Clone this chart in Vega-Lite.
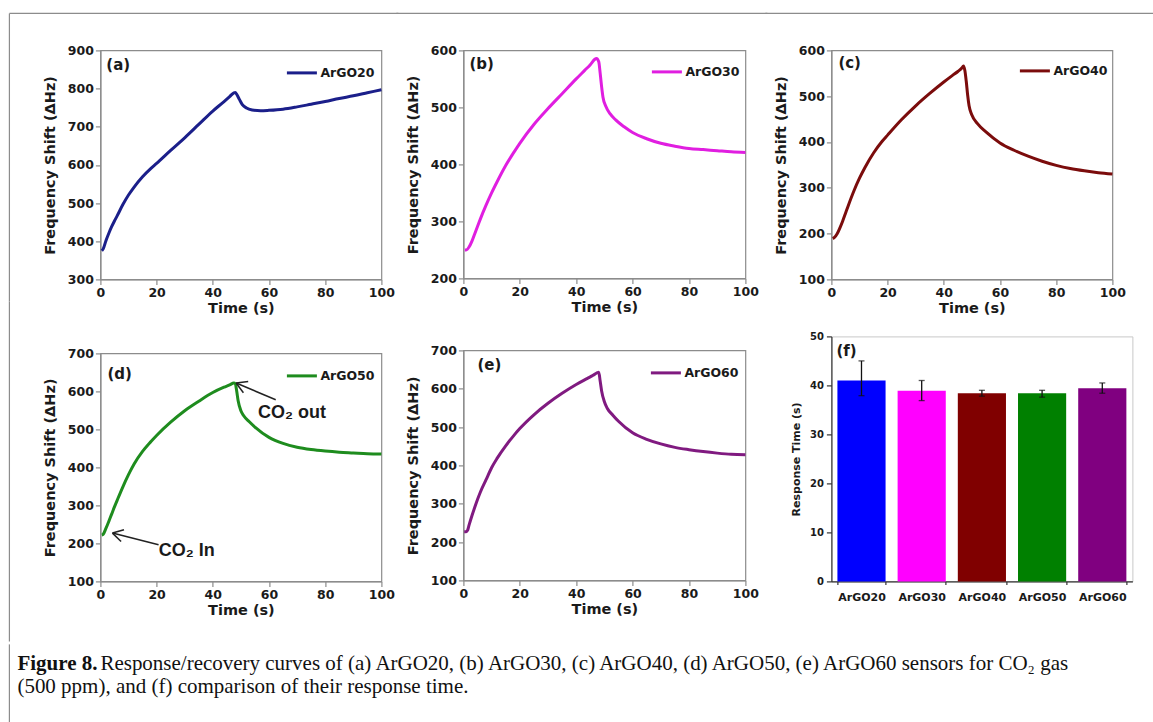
{
  "$schema": "https://vega.github.io/schema/vega-lite/v6.json",
  "padding": {"left": 7.4, "top": 11.4, "right": 0, "bottom": 0},
  "background": "white",
  "config": {
    "font": "DejaVu Sans",
    "view": {"stroke": "#8c8c8c", "strokeWidth": 1.2},
    "axis": {"grid": false, "domainColor": "#8c8c8c", "domainWidth": 1.2, "tickColor": "#8c8c8c", "tickSize": 5, "tickWidth": 1.2,
      "labelFont": "DejaVu Sans", "labelFontWeight": "bold", "labelFontSize": 12.5, "labelColor": "#1a1a1a", "labelPadding": 2, "labelOverlap": false,
      "titleFont": "DejaVu Sans", "titleFontWeight": "bold", "titleFontSize": 14.5, "titleColor": "#1a1a1a"},
    "axisX": {"titlePadding": 3, "labelFlush": false},
    "axisY": {"titlePadding": 10},
    "legend": {"orient": "top-right", "offset": 6, "padding": 0, "symbolType": "stroke", "symbolStrokeWidth": 3, "symbolSize": 900,
      "labelFont": "DejaVu Sans", "labelFontWeight": "bold", "labelFontSize": 12.5, "labelColor": "#1a1a1a", "labelOffset": 2},
    "text": {"color": "#1a1a1a"}
  },
  "datasets": {
    "curves": [
      {"sample":"ArGO20","t":0.5,"v":375},{"sample":"ArGO20","t":1,"v":380},{"sample":"ArGO20","t":2,"v":402},{"sample":"ArGO20","t":3,"v":421},{"sample":"ArGO20","t":4,"v":438},{"sample":"ArGO20","t":5,"v":453},{"sample":"ArGO20","t":6,"v":467},{"sample":"ArGO20","t":8,"v":496},{"sample":"ArGO20","t":10,"v":521},{"sample":"ArGO20","t":12,"v":542},{"sample":"ArGO20","t":15,"v":569},{"sample":"ArGO20","t":18,"v":591},{"sample":"ArGO20","t":20,"v":604},{"sample":"ArGO20","t":25,"v":638},{"sample":"ArGO20","t":30,"v":671},{"sample":"ArGO20","t":35,"v":706},{"sample":"ArGO20","t":40,"v":741},{"sample":"ArGO20","t":44,"v":766},{"sample":"ArGO20","t":46,"v":779},{"sample":"ArGO20","t":47.5,"v":789},{"sample":"ArGO20","t":48,"v":790},{"sample":"ArGO20","t":48.5,"v":785},{"sample":"ArGO20","t":49.5,"v":771},{"sample":"ArGO20","t":50.5,"v":758},{"sample":"ArGO20","t":52,"v":749},{"sample":"ArGO20","t":54,"v":744},{"sample":"ArGO20","t":57,"v":742},{"sample":"ArGO20","t":60,"v":743},{"sample":"ArGO20","t":65,"v":746},{"sample":"ArGO20","t":70,"v":752},{"sample":"ArGO20","t":75,"v":759},{"sample":"ArGO20","t":80,"v":766},{"sample":"ArGO20","t":85,"v":774},{"sample":"ArGO20","t":90,"v":781},{"sample":"ArGO20","t":95,"v":789},{"sample":"ArGO20","t":100,"v":797},
      {"sample":"ArGO30","t":0.5,"v":250},{"sample":"ArGO30","t":1,"v":250},{"sample":"ArGO30","t":2,"v":255},{"sample":"ArGO30","t":3,"v":265},{"sample":"ArGO30","t":4,"v":278},{"sample":"ArGO30","t":5,"v":291},{"sample":"ArGO30","t":6,"v":304},{"sample":"ArGO30","t":8,"v":328},{"sample":"ArGO30","t":10,"v":350},{"sample":"ArGO30","t":12,"v":370},{"sample":"ArGO30","t":15,"v":398},{"sample":"ArGO30","t":18,"v":422},{"sample":"ArGO30","t":20,"v":437},{"sample":"ArGO30","t":25,"v":470},{"sample":"ArGO30","t":30,"v":498},{"sample":"ArGO30","t":35,"v":524},{"sample":"ArGO30","t":40,"v":550},{"sample":"ArGO30","t":43,"v":565},{"sample":"ArGO30","t":45,"v":575},{"sample":"ArGO30","t":46.5,"v":584},{"sample":"ArGO30","t":47.2,"v":586},{"sample":"ArGO30","t":48,"v":580},{"sample":"ArGO30","t":48.5,"v":560},{"sample":"ArGO30","t":49,"v":537},{"sample":"ArGO30","t":49.5,"v":518},{"sample":"ArGO30","t":50.5,"v":502},{"sample":"ArGO30","t":52,"v":489},{"sample":"ArGO30","t":54,"v":478},{"sample":"ArGO30","t":57,"v":466},{"sample":"ArGO30","t":60,"v":456},{"sample":"ArGO30","t":65,"v":445},{"sample":"ArGO30","t":70,"v":437},{"sample":"ArGO30","t":75,"v":432},{"sample":"ArGO30","t":80,"v":428},{"sample":"ArGO30","t":85,"v":426},{"sample":"ArGO30","t":90,"v":424},{"sample":"ArGO30","t":95,"v":422},{"sample":"ArGO30","t":100,"v":421},
      {"sample":"ArGO40","t":0.5,"v":189},{"sample":"ArGO40","t":1,"v":191},{"sample":"ArGO40","t":2,"v":199},{"sample":"ArGO40","t":3,"v":212},{"sample":"ArGO40","t":4,"v":227},{"sample":"ArGO40","t":5,"v":244},{"sample":"ArGO40","t":6,"v":261},{"sample":"ArGO40","t":8,"v":293},{"sample":"ArGO40","t":10,"v":321},{"sample":"ArGO40","t":12,"v":345},{"sample":"ArGO40","t":15,"v":376},{"sample":"ArGO40","t":18,"v":401},{"sample":"ArGO40","t":20,"v":415},{"sample":"ArGO40","t":25,"v":449},{"sample":"ArGO40","t":30,"v":479},{"sample":"ArGO40","t":35,"v":506},{"sample":"ArGO40","t":40,"v":531},{"sample":"ArGO40","t":43,"v":545},{"sample":"ArGO40","t":45,"v":554},{"sample":"ArGO40","t":46.5,"v":562},{"sample":"ArGO40","t":47,"v":566},{"sample":"ArGO40","t":47.5,"v":556},{"sample":"ArGO40","t":48,"v":532},{"sample":"ArGO40","t":48.5,"v":502},{"sample":"ArGO40","t":49,"v":479},{"sample":"ArGO40","t":50,"v":459},{"sample":"ArGO40","t":52,"v":440},{"sample":"ArGO40","t":55,"v":422},{"sample":"ArGO40","t":60,"v":398},{"sample":"ArGO40","t":65,"v":382},{"sample":"ArGO40","t":70,"v":369},{"sample":"ArGO40","t":75,"v":358},{"sample":"ArGO40","t":80,"v":349},{"sample":"ArGO40","t":85,"v":342},{"sample":"ArGO40","t":90,"v":337},{"sample":"ArGO40","t":95,"v":333},{"sample":"ArGO40","t":100,"v":330},
      {"sample":"ArGO50","t":0.5,"v":222},{"sample":"ArGO50","t":1,"v":224},{"sample":"ArGO50","t":2,"v":240},{"sample":"ArGO50","t":3,"v":258},{"sample":"ArGO50","t":4,"v":277},{"sample":"ArGO50","t":5,"v":296},{"sample":"ArGO50","t":6,"v":314},{"sample":"ArGO50","t":8,"v":349},{"sample":"ArGO50","t":10,"v":381},{"sample":"ArGO50","t":12,"v":409},{"sample":"ArGO50","t":15,"v":442},{"sample":"ArGO50","t":18,"v":468},{"sample":"ArGO50","t":20,"v":484},{"sample":"ArGO50","t":25,"v":519},{"sample":"ArGO50","t":30,"v":549},{"sample":"ArGO50","t":35,"v":574},{"sample":"ArGO50","t":40,"v":597},{"sample":"ArGO50","t":44,"v":611},{"sample":"ArGO50","t":46,"v":617},{"sample":"ArGO50","t":47.5,"v":622},{"sample":"ArGO50","t":48,"v":620},{"sample":"ArGO50","t":48.5,"v":601},{"sample":"ArGO50","t":49,"v":576},{"sample":"ArGO50","t":50,"v":549},{"sample":"ArGO50","t":51,"v":536},{"sample":"ArGO50","t":53,"v":520},{"sample":"ArGO50","t":55,"v":506},{"sample":"ArGO50","t":60,"v":479},{"sample":"ArGO50","t":65,"v":463},{"sample":"ArGO50","t":70,"v":453},{"sample":"ArGO50","t":75,"v":447},{"sample":"ArGO50","t":80,"v":443},{"sample":"ArGO50","t":85,"v":440},{"sample":"ArGO50","t":90,"v":438},{"sample":"ArGO50","t":95,"v":436},{"sample":"ArGO50","t":100,"v":435},
      {"sample":"ArGO60","t":0.3,"v":227},{"sample":"ArGO60","t":1,"v":227},{"sample":"ArGO60","t":1.5,"v":231},{"sample":"ArGO60","t":2,"v":244},{"sample":"ArGO60","t":3,"v":268},{"sample":"ArGO60","t":4,"v":290},{"sample":"ArGO60","t":5,"v":311},{"sample":"ArGO60","t":6,"v":330},{"sample":"ArGO60","t":8,"v":362},{"sample":"ArGO60","t":10,"v":394},{"sample":"ArGO60","t":12,"v":419},{"sample":"ArGO60","t":15,"v":451},{"sample":"ArGO60","t":18,"v":479},{"sample":"ArGO60","t":20,"v":496},{"sample":"ArGO60","t":25,"v":532},{"sample":"ArGO60","t":30,"v":562},{"sample":"ArGO60","t":35,"v":588},{"sample":"ArGO60","t":40,"v":611},{"sample":"ArGO60","t":44,"v":627},{"sample":"ArGO60","t":46,"v":635},{"sample":"ArGO60","t":47.5,"v":642},{"sample":"ArGO60","t":48,"v":643},{"sample":"ArGO60","t":48.5,"v":620},{"sample":"ArGO60","t":49,"v":595},{"sample":"ArGO60","t":50,"v":566},{"sample":"ArGO60","t":51,"v":549},{"sample":"ArGO60","t":53,"v":531},{"sample":"ArGO60","t":55,"v":515},{"sample":"ArGO60","t":60,"v":485},{"sample":"ArGO60","t":65,"v":468},{"sample":"ArGO60","t":70,"v":456},{"sample":"ArGO60","t":75,"v":447},{"sample":"ArGO60","t":80,"v":441},{"sample":"ArGO60","t":85,"v":436},{"sample":"ArGO60","t":90,"v":432},{"sample":"ArGO60","t":95,"v":429},{"sample":"ArGO60","t":100,"v":428}
    ],
    "response": [
      {"sample":"ArGO20","time":41,"lo":37.9,"hi":45},
      {"sample":"ArGO30","time":38.9,"lo":36.9,"hi":41},
      {"sample":"ArGO40","time":38.4,"lo":37.8,"hi":39},
      {"sample":"ArGO50","time":38.4,"lo":37.6,"hi":39},
      {"sample":"ArGO60","time":39.4,"lo":38.4,"hi":40.5}
    ],
    "caption": [
      {"line":1,"part":"head","text":"Figure 8."},
      {"line":1,"part":"body1","text":"Response/recovery curves of (a) ArGO20, (b) ArGO30, (c) ArGO40, (d) ArGO50, (e) ArGO60 sensors for CO₂ gas"},
      {"line":2,"part":"body2","text":"(500 ppm), and (f) comparison of their response time."}
    ]
  },
  "spacing": 0,
  "resolve": {"scale": {"color": "independent"}, "legend": {"color": "independent"}},
  "vconcat": [
    {
      "spacing": -6,
      "resolve": {"scale": {"color": "independent"}, "legend": {"color": "independent"}},
      "hconcat": [
        {
          "bounds": "flush",
          "spacing": 74,
          "resolve": {"scale": {"color": "independent"}, "legend": {"color": "independent"}},
          "vconcat": [
            {
              "width": 281, "height": 229,
              "layer": [
                {"data": {"name": "curves"}, "transform": [{"filter": "datum.sample === 'ArGO20'"}],
                 "mark": {"type": "line", "strokeWidth": 3, "interpolate": "monotone"},
                 "encoding": {
                   "x": {"field": "t", "type": "quantitative", "scale": {"domain": [0, 100], "nice": false}, "axis": {"values": [0,20,40,60,80,100], "tickCount": 12, "title": "Time (s)"}},
                   "y": {"field": "v", "type": "quantitative", "scale": {"domain": [300, 900], "nice": false, "zero": false}, "axis": {"values": [300,400,500,600,700,800,900], "tickCount": 12, "labelOverlap": false, "title": "Frequency Shift (ΔHz)"}},
                   "color": {"field": "sample", "type": "nominal", "scale": {"range": ["#1b1f8a"]}, "legend": {"title": null, "orient": "top-right", "offset": 6}}
                 }},
                {"data": {"values": [{}]}, "mark": {"type": "text", "text": "(a)", "align": "left", "baseline": "middle", "fontSize": 15, "fontWeight": "bold"},
                 "encoding": {"x": {"datum": 2.1}, "y": {"datum": 860.7}}},
                {"data": {"values": [{}]}, "mark": {"type": "rule", "color": "#8c8c8c", "strokeWidth": 1.2},
                 "encoding": {"x": {"datum": -32.38}, "x2": {"datum": 106.05}, "y": {"datum": 996.94}}},
                {"data": {"values": [{}]}, "mark": {"type": "rule", "color": "#8c8c8c", "strokeWidth": 1.2},
                 "encoding": {"x": {"datum": -32.38}, "y": {"datum": 996.94}, "y2": {"datum": 242.3}}}
              ]
            },
            {
              "width": 281, "height": 228,
              "layer": [
                {"data": {"name": "curves"}, "transform": [{"filter": "datum.sample === 'ArGO50'"}],
                 "mark": {"type": "line", "strokeWidth": 3, "interpolate": "monotone"},
                 "encoding": {
                   "x": {"field": "t", "type": "quantitative", "scale": {"domain": [0, 100], "nice": false}, "axis": {"values": [0,20,40,60,80,100], "tickCount": 12, "title": "Time (s)"}},
                   "y": {"field": "v", "type": "quantitative", "scale": {"domain": [100, 700], "nice": false, "zero": false}, "axis": {"values": [100,200,300,400,500,600,700], "tickCount": 12, "labelOverlap": false, "title": "Frequency Shift (ΔHz)"}},
                   "color": {"field": "sample", "type": "nominal", "scale": {"range": ["#1e8c1e"]}, "legend": {"title": null, "orient": "top-right", "offset": 6}}
                 }},
                {"data": {"values": [{}]}, "mark": {"type": "text", "text": "(d)", "align": "left", "baseline": "middle", "fontSize": 15, "fontWeight": "bold"},
                 "encoding": {"x": {"datum": 2.5}, "y": {"datum": 644.7}}},
                {"data": {"values": [{}]}, "mark": {"type": "rule", "color": "#222", "strokeWidth": 1.5},
                 "encoding": {"x": {"datum": 62.4}, "y": {"datum": 578}, "x2": {"datum": 48.3}, "y2": {"datum": 622}}},
                {"data": {"values": [{}]}, "mark": {"type": "rule", "color": "#222", "strokeWidth": 1.5},
                 "encoding": {"x": {"datum": 48.3}, "y": {"datum": 622}, "x2": {"datum": 50.9}, "y2": {"datum": 596.6}}},
                {"data": {"values": [{}]}, "mark": {"type": "rule", "color": "#222", "strokeWidth": 1.5},
                 "encoding": {"x": {"datum": 48.3}, "y": {"datum": 622}, "x2": {"datum": 52.6}, "y2": {"datum": 625.8}}},
                {"data": {"values": [{}]}, "mark": {"type": "rule", "color": "#222", "strokeWidth": 1.5},
                 "encoding": {"x": {"datum": 20.7}, "y": {"datum": 196.6}, "x2": {"datum": 4.3}, "y2": {"datum": 227.1}}},
                {"data": {"values": [{}]}, "mark": {"type": "rule", "color": "#222", "strokeWidth": 1.5},
                 "encoding": {"x": {"datum": 4.3}, "y": {"datum": 227.1}, "x2": {"datum": 7.36}, "y2": {"datum": 205}}},
                {"data": {"values": [{}]}, "mark": {"type": "rule", "color": "#222", "strokeWidth": 1.5},
                 "encoding": {"x": {"datum": 4.3}, "y": {"datum": 227.1}, "x2": {"datum": 8.39}, "y2": {"datum": 235.8}}},
                {"data": {"values": [{}]}, "mark": {"type": "text", "text": "CO₂  out", "align": "center", "baseline": "middle", "font": "Liberation Sans", "fontSize": 18, "fontWeight": "bold"},
                 "encoding": {"x": {"datum": 68.2}, "y": {"datum": 542}}},
                {"data": {"values": [{}]}, "mark": {"type": "text", "text": "CO₂ In", "align": "center", "baseline": "middle", "font": "Liberation Sans", "fontSize": 18, "fontWeight": "bold"},
                 "encoding": {"x": {"datum": 30.7}, "y": {"datum": 179}}},
                {"data": {"values": [{}]}, "mark": {"type": "rule", "color": "#8c8c8c", "strokeWidth": 1.2},
                 "encoding": {"x": {"datum": -32.38}, "y": {"datum": 836.84}, "y2": {"datum": -57.89}}}
              ]
            }
          ]
        },
        {
          "bounds": "flush",
          "spacing": 72,
          "resolve": {"scale": {"color": "independent"}, "legend": {"color": "independent"}},
          "vconcat": [
            {
              "width": 282, "height": 228,
              "layer": [
                {"data": {"name": "curves"}, "transform": [{"filter": "datum.sample === 'ArGO30'"}],
                 "mark": {"type": "line", "strokeWidth": 3, "interpolate": "monotone"},
                 "encoding": {
                   "x": {"field": "t", "type": "quantitative", "scale": {"domain": [0, 100], "nice": false}, "axis": {"values": [0,20,40,60,80,100], "tickCount": 12, "title": "Time (s)"}},
                   "y": {"field": "v", "type": "quantitative", "scale": {"domain": [200, 600], "nice": false, "zero": false}, "axis": {"values": [200,300,400,500,600], "tickCount": 12, "labelOverlap": false, "title": "Frequency Shift (ΔHz)"}},
                   "color": {"field": "sample", "type": "nominal", "scale": {"range": ["#e01ee0"]}, "legend": {"title": null, "orient": "top-right", "offset": 5}}
                 }},
                {"data": {"values": [{}]}, "mark": {"type": "text", "text": "(b)", "align": "left", "baseline": "middle", "fontSize": 15, "fontWeight": "bold"},
                 "encoding": {"x": {"datum": 2.13}, "y": {"datum": 575.4}}},
                {"data": {"values": [{}]}, "mark": {"type": "rule", "color": "#8c8c8c", "strokeWidth": 1.2},
                 "encoding": {"x": {"datum": -23.76}, "x2": {"datum": 107.8}, "y": {"datum": 664.91}}}
              ]
            },
            {
              "width": 282, "height": 230,
              "layer": [
                {"data": {"name": "curves"}, "transform": [{"filter": "datum.sample === 'ArGO60'"}],
                 "mark": {"type": "line", "strokeWidth": 3, "interpolate": "monotone"},
                 "encoding": {
                   "x": {"field": "t", "type": "quantitative", "scale": {"domain": [0, 100], "nice": false}, "axis": {"values": [0,20,40,60,80,100], "tickCount": 12, "title": "Time (s)"}},
                   "y": {"field": "v", "type": "quantitative", "scale": {"domain": [100, 700], "nice": false, "zero": false}, "axis": {"values": [100,200,300,400,500,600,700], "tickCount": 12, "labelOverlap": false, "title": "Frequency Shift (ΔHz)"}},
                   "color": {"field": "sample", "type": "nominal", "scale": {"range": ["#801a80"]}, "legend": {"title": null, "orient": "top-right", "offset": 6}}
                 }},
                {"data": {"values": [{}]}, "mark": {"type": "text", "text": "(e)", "align": "left", "baseline": "middle", "fontSize": 15, "fontWeight": "bold"},
                 "encoding": {"x": {"datum": 4.96}, "y": {"datum": 660.9}}}
              ]
            }
          ]
        },
        {
          "bounds": "flush",
          "spacing": 57,
          "resolve": {"scale": {"color": "independent"}, "legend": {"color": "independent"}},
          "vconcat": [
            {
              "width": 281, "height": 229,
              "layer": [
                {"data": {"name": "curves"}, "transform": [{"filter": "datum.sample === 'ArGO40'"}],
                 "mark": {"type": "line", "strokeWidth": 3, "interpolate": "monotone"},
                 "encoding": {
                   "x": {"field": "t", "type": "quantitative", "scale": {"domain": [0, 100], "nice": false}, "axis": {"values": [0,20,40,60,80,100], "tickCount": 12, "title": "Time (s)"}},
                   "y": {"field": "v", "type": "quantitative", "scale": {"domain": [100, 600], "nice": false, "zero": false}, "axis": {"values": [100,200,300,400,500,600], "tickCount": 12, "labelOverlap": false, "title": "Frequency Shift (ΔHz)"}},
                   "color": {"field": "sample", "type": "nominal", "scale": {"range": ["#7b0c0c"]}, "legend": {"title": null, "orient": "top-right", "offset": 4}}
                 }},
                {"data": {"values": [{}]}, "mark": {"type": "text", "text": "(c)", "align": "left", "baseline": "middle", "fontSize": 15, "fontWeight": "bold"},
                 "encoding": {"x": {"datum": 2.49}, "y": {"datum": 571.6}}},
                {"data": {"values": [{}]}, "mark": {"type": "rule", "color": "#8c8c8c", "strokeWidth": 1.2},
                 "encoding": {"x": {"datum": -23.49}, "x2": {"datum": 114.59}, "y": {"datum": 680.79}}}
              ]
            },
            {
              "width": 301, "height": 245,
              "view": {"stroke": "#c8c8c8", "strokeWidth": 1},
              "data": {"name": "response"},
              "encoding": {
                "x": {"field": "sample", "type": "nominal", "sort": null, "scale": {"paddingInner": 0.2, "paddingOuter": 0.1},
                      "axis": {"title": null, "labelAngle": 0, "labelFontSize": 11, "tickBand": "extent", "tickSize": 3, "labelPadding": 7, "domainColor": "#333", "tickColor": "#333"}}
              },
              "layer": [
                {"mark": {"type": "bar"},
                 "encoding": {
                   "y": {"field": "time", "type": "quantitative", "scale": {"domain": [0, 50], "nice": false},
                         "axis": {"values": [0,10,20,30,40,50], "tickCount": 12, "title": "Response Time (s)", "labelFontSize": 10, "titleFontSize": 11, "titlePadding": 8, "labelPadding": 3, "domainColor": "#333", "tickColor": "#333"}},
                   "color": {"field": "sample", "type": "nominal", "scale": {"domain": ["ArGO20","ArGO30","ArGO40","ArGO50","ArGO60"], "range": ["#0000ff","#ff00ff","#800000","#008000","#800080"]}, "legend": null}
                 }},
                {"mark": {"type": "rule", "color": "#111", "strokeWidth": 1.3},
                 "encoding": {"y": {"field": "lo", "type": "quantitative"}, "y2": {"field": "hi"}}},
                {"mark": {"type": "tick", "color": "#111", "thickness": 1.3, "size": 6},
                 "encoding": {"y": {"field": "lo", "type": "quantitative"}}},
                {"mark": {"type": "tick", "color": "#111", "thickness": 1.3, "size": 6},
                 "encoding": {"y": {"field": "hi", "type": "quantitative"}}},
                {"data": {"values": [{}]}, "mark": {"type": "text", "text": "(f)", "align": "left", "baseline": "middle", "fontSize": 15, "fontWeight": "bold", "dx": -1},
                 "encoding": {"x": {"datum": "ArGO20", "bandPosition": 0}, "y": {"datum": 47.1}}}
              ]
            }
          ]
        }
      ]
    },
    {
      "width": 1040, "height": 82,
      "view": {"stroke": null},
      "layer": [
        {"data": {"values": [{}]}, "mark": {"type": "rule", "color": "#8c8c8c", "strokeWidth": 1.2},
         "encoding": {"x": {"datum": -0.0875, "scale": {"domain": [0, 1]}, "axis": null}}},
        {"data": {"name": "caption"}, "transform": [{"filter": "datum.part === 'head'"}],
         "mark": {"type": "text", "align": "left", "baseline": "middle", "font": "Liberation Serif", "fontSize": 21, "fontWeight": "bold", "dx": -83, "color": "#111"},
         "encoding": {"x": {"datum": 0, "scale": {"domain": [0, 1]}, "axis": null},
                      "y": {"field": "line", "type": "quantitative", "scale": {"domain": [0.1304, 3.6957], "reverse": true, "nice": false, "zero": false}, "axis": null},
                      "text": {"field": "text"}}},
        {"data": {"name": "caption"}, "transform": [{"filter": "datum.part === 'body1'"}],
         "mark": {"type": "text", "align": "left", "baseline": "middle", "font": "Liberation Serif", "fontSize": 21, "dx": 0, "color": "#111"},
         "encoding": {"x": {"datum": 0, "scale": {"domain": [0, 1]}, "axis": null},
                      "y": {"field": "line", "type": "quantitative", "scale": {"domain": [0.1304, 3.6957], "reverse": true, "nice": false, "zero": false}, "axis": null},
                      "text": {"field": "text"}}},
        {"data": {"name": "caption"}, "transform": [{"filter": "datum.part === 'body2'"}],
         "mark": {"type": "text", "align": "left", "baseline": "middle", "font": "Liberation Serif", "fontSize": 21, "dx": -83, "color": "#111"},
         "encoding": {"x": {"datum": 0, "scale": {"domain": [0, 1]}, "axis": null},
                      "y": {"field": "line", "type": "quantitative", "scale": {"domain": [0.1304, 3.6957], "reverse": true, "nice": false, "zero": false}, "axis": null},
                      "text": {"field": "text"}}}
      ]
    }
  ]
}
